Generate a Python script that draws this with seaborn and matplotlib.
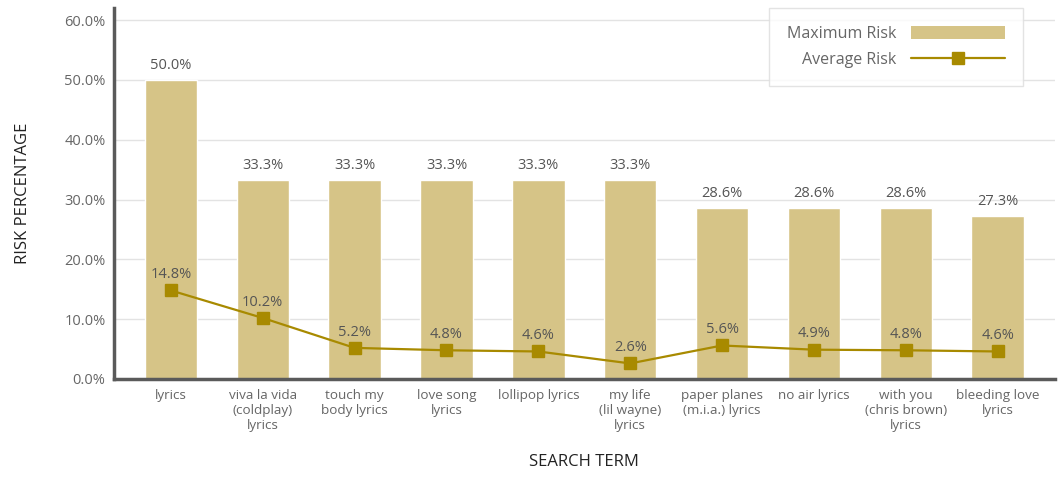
import matplotlib
matplotlib.use("Agg")
import matplotlib.pyplot as plt
import seaborn as sns
import pandas as pd
import numpy as np
from matplotlib.ticker import FuncFormatter
from matplotlib.patches import Patch
from matplotlib.lines import Line2D

categories = ["lyrics", "viva la vida\n(coldplay)\nlyrics", "touch my\nbody lyrics",
              "love song\nlyrics", "lollipop lyrics", "my life\n(lil wayne)\nlyrics",
              "paper planes\n(m.i.a.) lyrics", "no air lyrics",
              "with you\n(chris brown)\nlyrics", "bleeding love\nlyrics"]
max_risk = [50.0, 33.3, 33.3, 33.3, 33.3, 33.3, 28.6, 28.6, 28.6, 27.3]
avg_risk = [14.8, 10.2, 5.2, 4.8, 4.6, 2.6, 5.6, 4.9, 4.8, 4.6]
y_ticks = [0, 10, 20, 30, 40, 50, 60]

sns.set_theme(style="white")
plt.rcParams['font.family'] = ['Open Sans', 'DejaVu Sans']

BAR = "#D6C487"
LINE = "#A88A00"
TXT = "#666666"

df = pd.DataFrame({"term": categories, "max": max_risk, "avg": avg_risk})

fig = plt.figure(figsize=(10.62, 4.79), dpi=100)
ax = fig.add_axes([0.1073, 0.2088, 0.8857, 0.7742])

sns.barplot(data=df, x="term", y="max", color=BAR, width=0.57, saturation=1, ax=ax, zorder=2)
x = np.arange(len(categories))
ax.plot(x, avg_risk, color=LINE, lw=1.6, marker="s", markersize=8, zorder=4)

for i, v in enumerate(max_risk):
    ax.annotate(f"{v:.1f}%", (i, v), xytext=(0, 5), textcoords="offset points",
                ha="center", va="bottom", fontsize=10.5, color="#555555")
for i, v in enumerate(avg_risk):
    ax.annotate(f"{v:.1f}%", (i, v), xytext=(0, 6), textcoords="offset points",
                ha="center", va="bottom", fontsize=10.5, color="#555555", zorder=5)

ax.set_ylim(0, 62)
ax.set_xlim(-0.62, 9.62)
ax.set_yticks(y_ticks)
ax.yaxis.set_major_formatter(FuncFormatter(lambda v, p: f"{v:.1f}%"))
ax.grid(axis="y", color="#e3e3e3", lw=1, zorder=0)
ax.set_axisbelow(True)

for s in ["top", "right"]:
    ax.spines[s].set_visible(False)
for s in ["left", "bottom"]:
    ax.spines[s].set_color("#5a5a5a")
    ax.spines[s].set_linewidth(2.5)

ax.tick_params(axis="y", length=0, labelsize=10.5, labelcolor=TXT, pad=6)
ax.tick_params(axis="x", length=0, labelsize=9.7, labelcolor=TXT, pad=7)
ax.set_xlabel("SEARCH TERM", fontsize=12, color="#222222", labelpad=16)
ax.set_ylabel("RISK PERCENTAGE", fontsize=12, color="#222222", labelpad=24)

handles = [Patch(facecolor=BAR, edgecolor="none"),
           Line2D([0], [0], color=LINE, lw=1.6, marker="s", markersize=8)]
leg = ax.legend(handles, ["Maximum Risk", "Average Risk"], loc="upper right",
                bbox_to_anchor=(0.966, 1.0), bbox_transform=ax.transAxes,
                markerfirst=False, frameon=True,
                fancybox=False, fontsize=11.5, labelcolor=TXT, handlelength=5.9,
                handleheight=0.9, borderpad=1.1, labelspacing=0.65, handletextpad=0.9,
                borderaxespad=0)
leg.get_frame().set_edgecolor("#dddddd")
leg.get_frame().set_linewidth(1)

fig.savefig("out.png", dpi=100)
